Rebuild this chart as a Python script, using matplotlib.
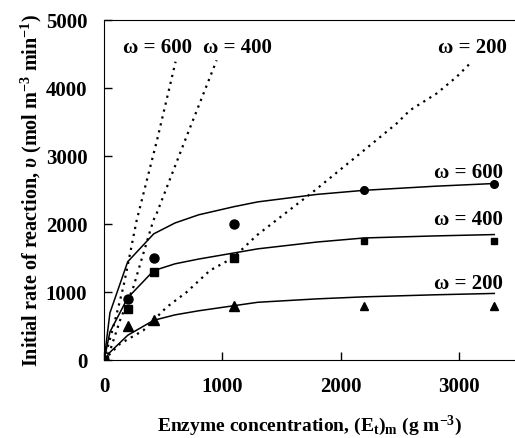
import matplotlib
matplotlib.use("Agg")
from matplotlib import pyplot as plt

plt.rcParams['font.family'] = 'Liberation Serif'
plt.rcParams['font.weight'] = 'bold'
plt.rcParams['mathtext.fontset'] = 'custom'
plt.rcParams['mathtext.rm'] = 'Liberation Serif:bold'
plt.rcParams['mathtext.it'] = 'Liberation Serif:italic:bold'
plt.rcParams['mathtext.bf'] = 'Liberation Serif:bold'

# datos medidos
conc = [0, 200, 420, 1100, 2200, 3300]
v_600 = [0, 900, 1500, 2000, 2500, 2600]
v_400 = [0, 750, 1300, 1500, 1750, 1750]
v_200 = [0, 500, 600, 800, 800, 800]

# curvas del modelo (lineas continuas)
fit_x = [0, 50, 200, 420, 600, 800, 1100, 1300, 1800, 2200, 2800, 3300]
fit_600 = [0, 700, 1450, 1860, 2020, 2140, 2260, 2330, 2440, 2500, 2560, 2600]
fit_400 = [0, 420, 920, 1320, 1420, 1490, 1580, 1640, 1740, 1800, 1830, 1850]
fit_200 = [0, 120, 370, 590, 670, 730, 805, 855, 905, 935, 965, 985]

# curvas punteadas
dot600_x = [0, 93, 163, 220, 276, 450, 605]
dot600_y = [0, 588, 1078, 1569, 2059, 3250, 4390]
dot400_x = [0, 51, 135, 248, 332, 417, 445, 700, 952]
dot400_y = [0, 147, 588, 1078, 1569, 2059, 2160, 3300, 4410]
dot200_x = [0, 51, 135, 332, 530, 699, 896, 1093, 1291, 1769, 2164, 2473, 2587, 2812, 2981, 3094]
dot200_y = [0, 98, 245, 441, 784, 1005, 1323, 1510, 1838, 2480, 3039, 3480, 3676, 3922, 4166, 4363]

fig = plt.figure(figsize=(5.15, 4.38), dpi=100)
ax = fig.add_axes([0.202, 0.177, 0.798, 0.777])

ax.plot(fit_x, fit_600, color='black', lw=1.1)
ax.plot(fit_x, fit_400, color='black', lw=1.1)
ax.plot(fit_x, fit_200, color='black', lw=1.1)

ax.plot(dot600_x, dot600_y, color='black', lw=1.6, linestyle=(0, (1, 2.2)))
ax.plot(dot400_x, dot400_y, color='black', lw=1.6, linestyle=(0, (1, 2.2)))
ax.plot(dot200_x, dot200_y, color='black', lw=1.6, linestyle=(0, (1, 2.2)))

# los puntos de la izquierda son algo mas grandes que los de la derecha
ax.plot(conc[:4], v_600[:4], 'o', color='black', ms=6.5)
ax.plot(conc[4:], v_600[4:], 'o', color='black', ms=5.5)
ax.plot(conc[:4], v_200[:4], '^', color='black', ms=6.5)
ax.plot(conc[4:], v_200[4:], '^', color='black', ms=5.5)
ax.plot(conc[:4], v_400[:4], 's', color='black', ms=6)
ax.plot(conc[4:], v_400[4:], 's', color='black', ms=5)

fs = 15
ax.text(744, 4590, 'ω = 600', ha='right', va='center', fontsize=fs)
ax.text(1420, 4590, 'ω = 400', ha='right', va='center', fontsize=fs)
ax.text(3407, 4590, 'ω = 200', ha='right', va='center', fontsize=fs)
ax.text(3373, 2750, 'ω = 600', ha='right', va='center', fontsize=fs)
ax.text(3373, 2060, 'ω = 400', ha='right', va='center', fontsize=fs)
ax.text(3373, 1130, 'ω = 200', ha='right', va='center', fontsize=fs)

ax.set_xlim(0, 3475)
ax.set_ylim(0, 5000)
ax.set_xticks([0, 1000, 2000, 3000])
ax.set_yticks([0, 1000, 2000, 3000, 4000, 5000])
ax.tick_params(direction='in', length=6, width=1, labelsize=15)
ax.tick_params(axis='y', pad=12)
ax.tick_params(axis='x', pad=12)
ax.spines['right'].set_visible(False)

ax.set_xlabel(r'Enzyme concentration, (E$_\mathregular{t}$)$_\mathregular{m}$ (g m$^\mathregular{-3}$)',
              fontsize=14, fontweight='bold', labelpad=12)
ax.set_ylabel(r'Initial rate of reaction, $\upsilon$ (mol m$^\mathregular{-3}$ min$^\mathregular{-1}$)',
              fontsize=14.5, fontweight='bold', labelpad=1)

plt.savefig('out.png', dpi=100)
